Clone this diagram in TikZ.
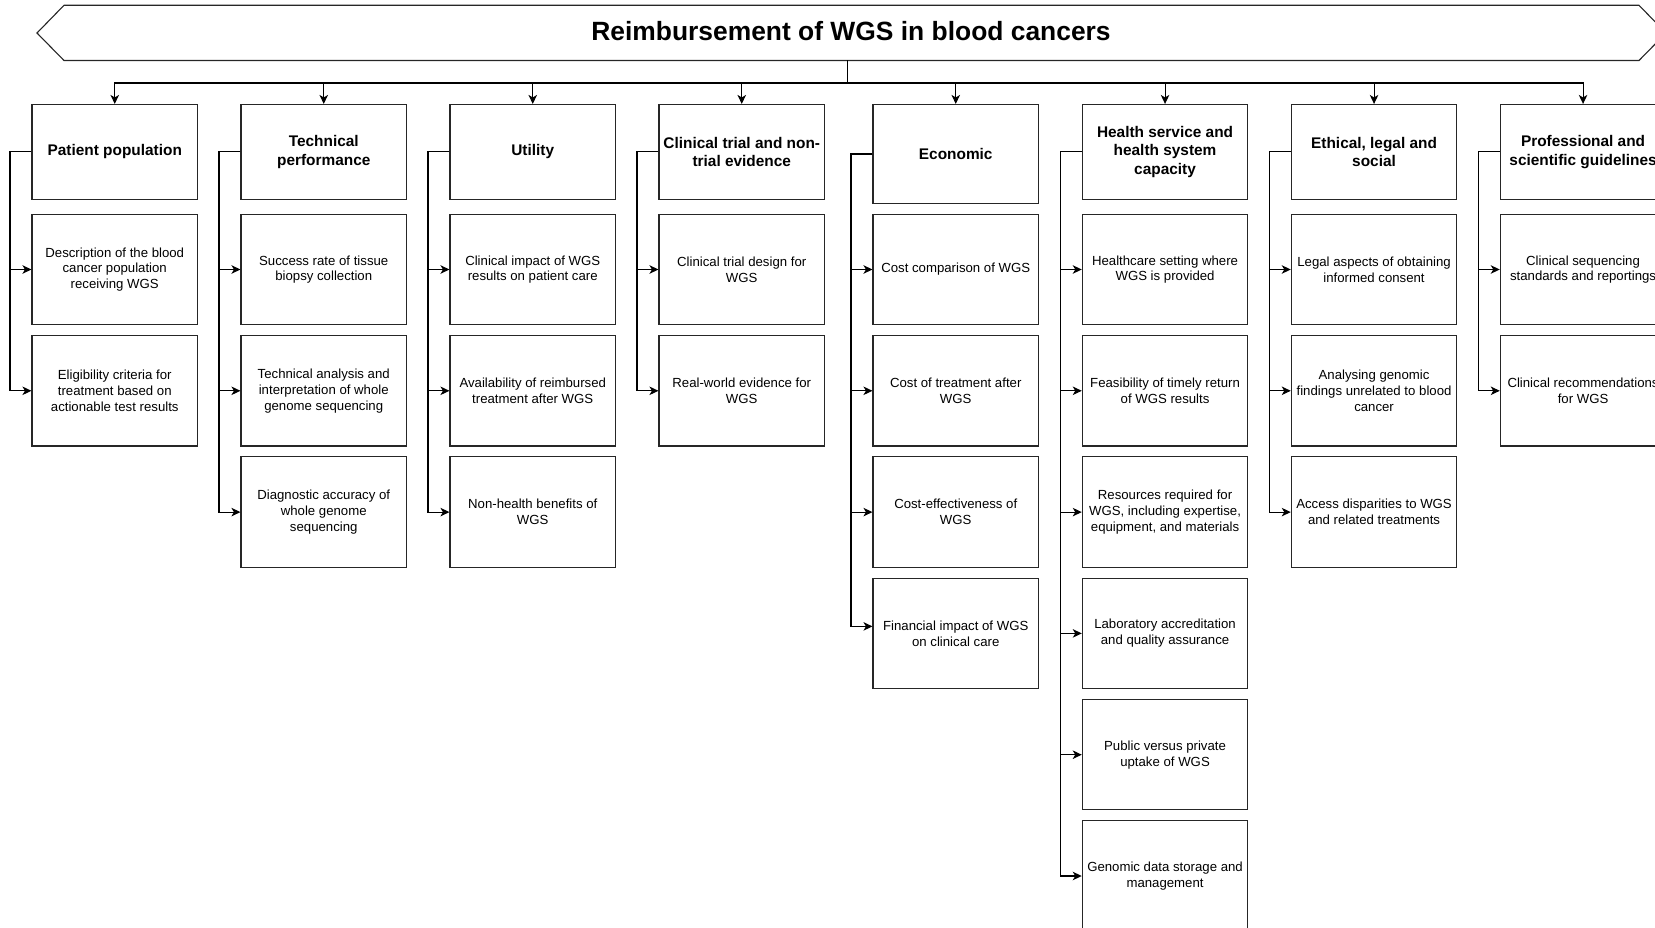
\documentclass[tikz,border=0pt]{standalone}
\usepackage{fontspec}
\setmainfont{Liberation Sans}
\usetikzlibrary{arrows.meta}
\begin{document}
\begin{tikzpicture}[x=1pt,y=-1pt,
  box/.style={draw=black!85, line width=1.1pt, minimum width=165.5pt, minimum height=110.4pt, inner sep=0pt, align=center, font=\fontsize{13.2}{15.8}\selectfont},
  head/.style={box, minimum height=94.8pt, font=\fontsize{15.4}{18.5}\selectfont\bfseries},
  arr/.style={draw=black, line width=1.1pt, -{Stealth[length=9pt,width=8.5pt,inset=2.5pt]}},
  banner/.style={draw=black!85, line width=1.1pt}
]
\useasboundingbox (0,0) rectangle (1655,928);
\clip (0,0) rectangle (1655,928);

% banner
\draw[banner] (37,33) -- (64,5.3) -- (1639,5.3) -- (1666,33) -- (1639,60.5) -- (64,60.5) -- cycle;
\node (title) [font=\fontsize{26.4}{31}\selectfont\bfseries] at (851,31.5) {Reimbursement of WGS in blood cancers};
\coordinate (tb) at (847.5,60.5);
\coordinate (bus) at (847.5,83);

% headers
\node[head] (h1) at (114.75,151.9) {Patient population};
\node[head] (h2) at (323.75,151.9) {Technical\\performance};
\node[head] (h3) at (532.75,151.9) {Utility};
\node[head] (h4) at (741.75,151.9) {Clinical trial and non-\\trial evidence};
\node[head, minimum height=99pt] (h5) at (955.75,154) {Economic};
\node[head] (h6) at (1165.05,151.9) {Health service and\\health system\\capacity};
\node[head] (h7) at (1374.05,151.9) {Ethical, legal and\\social};
\node[head] (h8) at (1583.05,151.9) {Professional and\\scientific guidelines};

% sub boxes
\node[box] (s11) at (114.75,269.5) {Description of the blood\\cancer population\\receiving WGS};
\node[box] (s12) at (114.75,390.8) {Eligibility criteria for\\treatment based on\\actionable test results};

\node[box] (s21) at (323.75,269.5) {Success rate of tissue\\biopsy collection};
\node[box] (s22) at (323.75,390.8) {Technical analysis and\\interpretation of whole\\genome sequencing};
\node[box] (s23) at (323.75,512.1) {Diagnostic accuracy of\\whole genome\\sequencing};

\node[box] (s31) at (532.75,269.5) {Clinical impact of WGS\\results on patient care};
\node[box] (s32) at (532.75,390.8) {Availability of reimbursed\\treatment after WGS};
\node[box] (s33) at (532.75,512.1) {Non-health benefits of\\WGS};

\node[box] (s41) at (741.75,269.5) {Clinical trial design for\\WGS};
\node[box] (s42) at (741.75,390.8) {Real-world evidence for\\WGS};

\node[box] (s51) at (955.75,269.5) {Cost comparison of WGS};
\node[box] (s52) at (955.75,390.8) {Cost of treatment after\\WGS};
\node[box] (s53) at (955.75,512.1) {Cost-effectiveness of\\WGS};
\node[box] (s54) at (955.75,633.4) {Financial impact of WGS\\on clinical care};

\node[box] (s61) at (1165.05,269.5) {Healthcare setting where\\WGS is provided};
\node[box] (s62) at (1165.05,390.8) {Feasibility of timely return\\of WGS results};
\node[box] (s63) at (1165.05,512.1) {Resources required for\\WGS, including expertise,\\equipment, and materials};
\node[box] (s64) at (1165.05,633.4) {Laboratory accreditation\\and quality assurance};
\node[box] (s65) at (1165.05,754.7) {Public versus private\\uptake of WGS};
\node[box] (s66) at (1165.05,876.0) {Genomic data storage and\\management};

\node[box] (s71) at (1374.05,269.5) {Legal aspects of obtaining\\informed consent};
\node[box] (s72) at (1374.05,390.8) {Analysing genomic\\findings unrelated to blood\\cancer};
\node[box] (s73) at (1374.05,512.1) {Access disparities to WGS\\and related treatments};

\node[box] (s81) at (1583.05,269.5) {Clinical sequencing\\standards and reportings};
\node[box] (s82) at (1583.05,390.8) {Clinical recommendations\\for WGS};

% title to headers
\foreach \h in {h1,h2,h3,h4,h5,h6,h7,h8}
  \draw[arr] (tb) -- (bus) -| (\h.north);

% header to sub boxes
\foreach \s in {s11,s12}
  \draw[arr] (h1.west) -- ++(-21.5,0) |- (\s.west);
\foreach \s in {s21,s22,s23}
  \draw[arr] (h2.west) -- ++(-21.5,0) |- (\s.west);
\foreach \s in {s31,s32,s33}
  \draw[arr] (h3.west) -- ++(-21.5,0) |- (\s.west);
\foreach \s in {s41,s42}
  \draw[arr] (h4.west) -- ++(-21.5,0) |- (\s.west);
\foreach \s in {s51,s52,s53}
  \draw[arr] (h5.west) -- ++(-21.5,0) |- (\s.west);
\draw[arr] (h5.west) -- ++(-21.5,0) |- ([yshift=7pt]s54.west);
\foreach \s in {s61,s62,s63,s64,s65,s66}
  \draw[arr] (h6.west) -- ++(-21.5,0) |- (\s.west);
\foreach \s in {s71,s72,s73}
  \draw[arr] (h7.west) -- ++(-21.5,0) |- (\s.west);
\foreach \s in {s81,s82}
  \draw[arr] (h8.west) -- ++(-21.5,0) |- (\s.west);
\end{tikzpicture}
\end{document}
